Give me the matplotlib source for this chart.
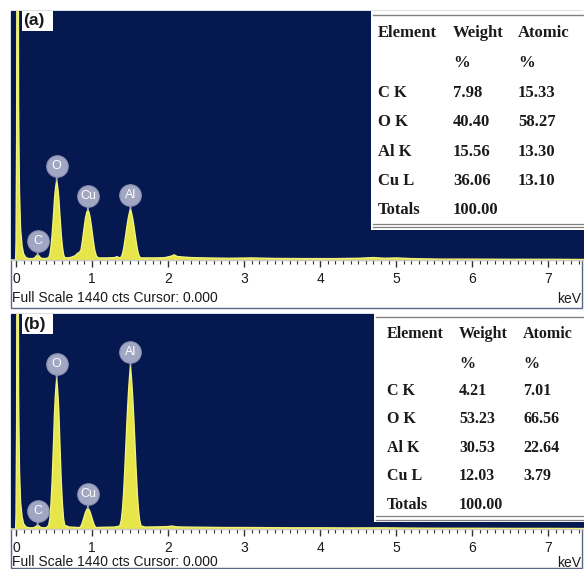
import matplotlib
matplotlib.use("Agg")
import matplotlib.pyplot as plt
from matplotlib.patches import Rectangle
from matplotlib.ticker import MultipleLocator
import matplotlib.transforms as mtransforms

W, H = 584, 569
DPI = 100

# ---------------- data ----------------
full_scale = 1440
xlim = (-0.066, 7.47)
xticks = [0, 1, 2, 3, 4, 5, 6, 7]

energy_a = [-0.066, -0.005, 0.0, 0.008, 0.014, 0.02, 0.026, 0.034, 0.045, 0.06, 0.08, 0.10, 0.13, 0.17,
            0.22, 0.25, 0.27, 0.285, 0.30, 0.32, 0.35, 0.40,
            0.43, 0.445, 0.46, 0.475, 0.485, 0.495, 0.505, 0.515, 0.525, 0.535, 0.545, 0.555, 0.565,
            0.575, 0.585, 0.595, 0.61, 0.625, 0.64, 0.68,
            0.72, 0.78, 0.80,
            0.835, 0.855, 0.87, 0.885, 0.90, 0.915, 0.93, 0.945, 0.96, 0.975, 0.99, 1.005, 1.02, 1.035,
            1.055, 1.08,
            1.20, 1.30, 1.33, 1.35,
            1.365, 1.385, 1.40, 1.415, 1.43, 1.445, 1.46, 1.475, 1.49, 1.505, 1.52, 1.535, 1.55, 1.565,
            1.58, 1.595, 1.61, 1.625, 1.645,
            1.70, 1.80, 1.95, 2.04, 2.08, 2.12, 2.20, 2.30, 2.50, 2.80, 3.10, 3.40, 3.80, 4.20, 4.50,
            4.70, 4.85, 5.00, 5.20, 5.60, 6.00, 6.50, 7.00, 7.47]
counts_a = [0, 0, 100, 700, 2500, 4000, 2500, 900, 400, 180, 80, 35, 14, 8,
            8, 14, 25, 30, 25, 14, 8, 9,
            14, 32, 77, 146, 210, 273, 346, 396, 433, 460, 433, 396, 346,
            273, 210, 146, 77, 32, 14, 12,
            15, 25, 35,
            45, 58, 100, 150, 200, 245, 275, 290, 275, 245, 200, 150, 100, 58,
            25, 12,
            12, 14, 20, 14,
            12, 18, 35, 65, 106, 152, 198, 239, 271, 297, 271, 239, 198, 152,
            106, 65, 35, 18, 12,
            12, 12, 13, 22, 30, 20, 17, 14, 12, 10, 12, 9, 8, 8, 10,
            14, 10, 12, 8, 5, 5, 4, 4, 3]

energy_b = [-0.066, -0.005, 0.0, 0.008, 0.014, 0.02, 0.026, 0.034, 0.045, 0.06, 0.08, 0.10, 0.13, 0.17,
            0.22, 0.25, 0.27, 0.285, 0.30, 0.32, 0.35, 0.40,
            0.43, 0.445, 0.46, 0.475, 0.485, 0.495, 0.505, 0.515, 0.525, 0.535, 0.545, 0.555, 0.565,
            0.575, 0.585, 0.595, 0.61, 0.625, 0.64, 0.70,
            0.75,
            0.835, 0.855, 0.87, 0.885, 0.90, 0.915, 0.93, 0.945, 0.96, 0.975, 0.99, 1.005, 1.02, 1.035,
            1.055, 1.10,
            1.20, 1.30,
            1.365, 1.385, 1.40, 1.415, 1.43, 1.445, 1.46, 1.475, 1.49, 1.505, 1.52, 1.535, 1.55, 1.565,
            1.58, 1.595, 1.61, 1.625, 1.645,
            1.70, 1.85, 2.00, 2.05, 2.10, 2.20, 2.40, 2.70, 3.00, 3.30, 3.60, 4.00, 4.40, 4.80,
            5.20, 5.60, 6.00, 6.50, 7.00, 7.47]
counts_b = [0, 0, 100, 700, 2500, 4000, 2500, 900, 400, 180, 80, 35, 14, 8,
            8, 12, 21, 25, 21, 12, 8, 9,
            25, 70, 170, 320, 460, 600, 760, 870, 950, 1010, 950, 870, 760,
            600, 460, 320, 170, 70, 25, 13,
            12,
            9, 20, 39, 63, 89, 113, 130, 140, 130, 113, 89, 63, 39, 20,
            9, 11,
            12, 13,
            20, 60, 130, 240, 390, 560, 730, 880, 1000, 1095, 1000, 880, 730, 560,
            390, 240, 130, 60, 20,
            13, 14, 16, 20, 15, 13, 12, 10, 10, 9, 8, 8, 7, 8,
            6, 5, 5, 4, 4, 3]

peak_labels = ["C", "O", "Cu", "Al"]
peak_energy = [0.285, 0.535, 0.945, 1.505]
peak_height_a = [30, 460, 290, 297]
peak_height_b = [25, 1010, 140, 1095]

table_header = ["Element", "Weight", "Atomic"]
table_units = ["", "%", "%"]
elements = ["C K", "O K", "Al K", "Cu L"]
weight_a = ["7.98", "40.40", "15.56", "36.06"]
atomic_a = ["15.33", "58.27", "13.30", "13.10"]
weight_b = ["4.21", "53.23", "30.53", "12.03"]
atomic_b = ["7.01", "66.56", "22.64", "3.79"]
total_weight = "100.00"

# ---------------- style ----------------
NAVY = "#061850"
YELLOW_FILL = "#e6e64a"
YELLOW_EDGE = "#f2f27a"
CIRCLE = "#a1a6c2"
CIRCLE_EDGE = "#8c92b0"
FRAME = "#5b6585"
TXT = "#1a1a1a"

fig = plt.figure(figsize=(W / DPI, H / DPI), dpi=DPI)
fig.patch.set_facecolor("white")


def fx(x):
    return x / W


def fy(y):
    return 1 - y / H


def px_axes(l, t, r, b):
    return fig.add_axes([l / W, 1 - b / H, (r - l) / W, (b - t) / H])


def draw_panel(top, base, frame_bottom, status_y, energy, counts, heights, tag,
               tab_box, tab_cols, tab_rows, tab_fs, weight, atomic):
    # outer frame
    fig.patches.append(Rectangle((fx(11), fy(frame_bottom)), fx(582) - fx(11),
                                 fy(top) - fy(frame_bottom), transform=fig.transFigure,
                                 facecolor="none", edgecolor=FRAME, lw=1.0, zorder=-1))
    ax = px_axes(11, top, 584, base)
    ax.set_zorder(1)
    ax.set_facecolor(NAVY)
    ax.fill_between(energy, counts, 0, color=YELLOW_FILL, lw=0, zorder=2)
    ax.plot(energy, counts, color=YELLOW_EDGE, lw=1.0, zorder=3)
    ax.set_xlim(*xlim)
    ax.set_ylim(0, full_scale)
    ax.set_yticks([])
    ax.set_xticks(xticks)
    ax.xaxis.set_minor_locator(MultipleLocator(0.1))
    ax.tick_params(axis="x", which="major", direction="out", length=5, width=1.0,
                   color="#333333", labelsize=10, labelcolor=TXT, pad=3.5)
    ax.tick_params(axis="x", which="minor", direction="out", length=3, width=0.8,
                   color="#333333")
    for lab in ax.get_xticklabels():
        lab.set_fontfamily("Liberation Sans")
    for s in ["top", "right", "left"]:
        ax.spines[s].set_visible(False)
    ax.spines["bottom"].set_color("#c8c8c8")
    ax.spines["bottom"].set_linewidth(1.0)

    # peak labels
    circ_tr = mtransforms.offset_copy(ax.transData, fig=fig, x=0, y=14, units="dots")
    for lab, e, h in zip(peak_labels, peak_energy, heights):
        ax.annotate("", xy=(e, h), xytext=(0, 5), textcoords="offset pixels",
                    arrowprops=dict(arrowstyle="-", color=CIRCLE, lw=1.4,
                                    shrinkA=0, shrinkB=0), zorder=4)
        ax.plot([e], [h], marker="o", ms=15.5, mfc=CIRCLE, mec=CIRCLE_EDGE, mew=0.8,
                transform=circ_tr, zorder=5, clip_on=False)
        ax.text(e, h, lab, transform=circ_tr, ha="center", va="center", color="white",
                fontsize=9, family="Liberation Sans", zorder=6)

    # panel tag
    ax.add_patch(Rectangle((fx(22), fy(top + 20)), fx(53) - fx(22), fy(top) - fy(top + 20),
                           transform=fig.transFigure, facecolor="white", lw=0, zorder=8,
                           clip_on=False))
    ax.text(fx(23.5), fy(top + 10), tag, ha="left", va="center", fontsize=12.5,
            fontweight="bold", family="Liberation Sans", color=TXT, zorder=9,
            transform=fig.transFigure)

    # bottom status text
    fig.text(fx(12), fy(status_y), "Full Scale 1440 cts Cursor: 0.000", ha="left",
             va="center", fontsize=10, family="Liberation Sans", color=TXT)
    fig.text(fx(581), fy(status_y + 1), "keV", ha="right", va="center", fontsize=10,
             family="Liberation Sans", color=TXT)

    # table
    l, t, r, b = tab_box
    ax.add_patch(Rectangle((fx(l), fy(b)), fx(r) - fx(l), fy(t) - fy(b),
                           transform=fig.transFigure, facecolor="white", lw=0, zorder=10,
                           clip_on=False))
    ax.plot([fx(l + 2), fx(r - 1)], [fy(t + 4), fy(t + 4)], transform=fig.transFigure,
            color="#808080", lw=1.0, zorder=11, clip_on=False)
    for dy in (6, 2.5):
        ax.plot([fx(l + 2), fx(r - 1)], [fy(b - dy), fy(b - dy)], transform=fig.transFigure,
                color="#808080", lw=0.9, zorder=11, clip_on=False)
    rows = [table_header, table_units]
    rows += [[el, w, a] for el, w, a in zip(elements, weight, atomic)]
    rows += [["Totals", total_weight, ""]]
    for row, ry in zip(rows, tab_rows):
        for cell, cx in zip(row, tab_cols):
            ax.text(fx(cx), fy(ry), cell, ha="left", va="center", fontsize=tab_fs,
                    fontweight="bold", family="Liberation Serif", color=TXT, zorder=12,
                    transform=fig.transFigure)
    return ax


draw_panel(11, 260, 308, 298, energy_a, counts_a, peak_height_a, "(a)",
           (371, 11, 584, 230), [378, 453, 518], [33, 63, 93, 122, 152, 181, 210], 12,
           weight_a, atomic_a)
draw_panel(314, 529, 568, 562, energy_b, counts_b, peak_height_b, "(b)",
           (374, 313, 584, 522), [387, 459, 523], [334, 364, 391, 419, 448, 476, 505], 11.5,
           weight_b, atomic_b)

fig.savefig("out.png", dpi=DPI, facecolor="white")
